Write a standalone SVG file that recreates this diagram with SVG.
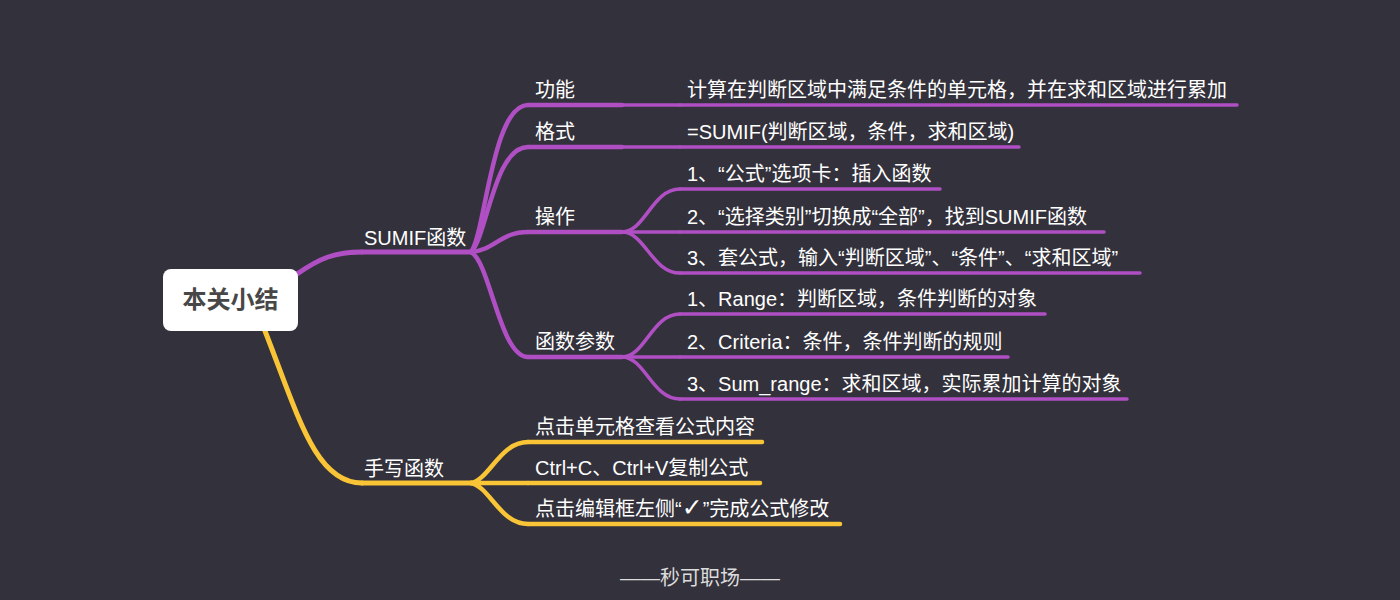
<svg xmlns="http://www.w3.org/2000/svg" width="1400" height="600" viewBox="0 0 1400 600">
<style>
.t{font-family:"Liberation Sans","Noto Sans CJK SC",sans-serif;font-size:20px;fill:#ffffff}
.root{font-family:"Liberation Sans","Noto Sans CJK SC",sans-serif;font-size:24px;font-weight:bold;fill:#474747}
.p{fill:none;stroke:#b04fc4;stroke-linecap:round}
.y{fill:none;stroke:#f9c536;stroke-linecap:round}
.w1{stroke-width:5}
.w2{stroke-width:4.5}
.w3{stroke-width:3.5}
.chk{font-family:"DejaVu Sans",sans-serif;font-size:25px}
.foot{font-family:"Liberation Sans","Noto Sans CJK SC",sans-serif;font-size:20px;fill:#dcdcdc}
</style>
<rect x="0" y="0" width="1400" height="600" fill="#33313b"/>
<g id="connectors">
<path class="p w1" d="M297,274 C320,258 335,252 362,252"/>
<path class="y w1" d="M265,331 C298,415 315,483 362,483"/>
<path class="p w2" d="M471,252 C485,235 492,105 528,105"/>
<path class="p w2" d="M471,252 C487,237 494,147 528,147"/>
<path class="p w2" d="M471,252 C495,250 500,232 528,232"/>
<path class="p w2" d="M471,252 C490,262 500,357 528,357"/>
<path class="p w3" d="M622,105 H680"/>
<path class="p w3" d="M622,147 H680"/>
<path class="p w3" d="M622,232 C645,232 652,189 680,189"/>
<path class="p w3" d="M622,232 H680"/>
<path class="p w3" d="M622,232 C645,232 652,273 680,273"/>
<path class="p w3" d="M622,357 C645,357 652,314 680,314"/>
<path class="p w3" d="M622,357 H680"/>
<path class="p w3" d="M622,357 C645,357 652,399 680,399"/>
<path class="y w2" d="M471,483 C490,479 500,442 528,442"/>
<path class="y w2" d="M471,483 H528"/>
<path class="y w2" d="M471,483 C490,487 500,524 528,524"/>
</g>
<g id="root">
<rect x="163" y="269" width="135" height="62" rx="8" fill="#ffffff"/>
<text class="root" x="230.5" y="308" text-anchor="middle">本关小结</text>
</g>
<g id="n-sumif">
<line class="p w1" x1="362" y1="252" x2="471" y2="252"/>
<text class="t" x="364" y="245">SUMIF函数</text>
</g>
<g id="n-gongneng">
<line class="p w2" x1="528" y1="105" x2="622" y2="105"/>
<text class="t" x="535" y="97">功能</text>
</g>
<g id="n-gongneng-1">
<line class="p w3" x1="680" y1="105" x2="1237" y2="105"/>
<text class="t" x="687" y="97">计算在判断区域中满足条件的单元格，并在求和区域进行累加</text>
</g>
<g id="n-geshi">
<line class="p w2" x1="528" y1="147" x2="622" y2="147"/>
<text class="t" x="535" y="139">格式</text>
</g>
<g id="n-geshi-1">
<line class="p w3" x1="680" y1="147" x2="1019" y2="147"/>
<text class="t" x="687" y="139">=SUMIF(判断区域，条件，求和区域)</text>
</g>
<g id="n-caozuo">
<line class="p w2" x1="528" y1="232" x2="622" y2="232"/>
<text class="t" x="535" y="224">操作</text>
</g>
<g id="n-caozuo-1">
<line class="p w3" x1="680" y1="189" x2="940" y2="189"/>
<text class="t" x="687" y="181">1、“公式”选项卡：插入函数</text>
</g>
<g id="n-caozuo-2">
<line class="p w3" x1="680" y1="232" x2="1104" y2="232"/>
<text class="t" x="687" y="224">2、“选择类别”切换成“全部”，找到SUMIF函数</text>
</g>
<g id="n-caozuo-3">
<line class="p w3" x1="680" y1="273" x2="1140" y2="273"/>
<text class="t" x="687" y="265">3、套公式，输入“判断区域”、“条件”、“求和区域”</text>
</g>
<g id="n-canshu">
<line class="p w2" x1="528" y1="357" x2="622" y2="357"/>
<text class="t" x="535" y="349">函数参数</text>
</g>
<g id="n-canshu-1">
<line class="p w3" x1="680" y1="314" x2="1045" y2="314"/>
<text class="t" x="687" y="306">1、Range：判断区域，条件判断的对象</text>
</g>
<g id="n-canshu-2">
<line class="p w3" x1="680" y1="357" x2="1008" y2="357"/>
<text class="t" x="687" y="349">2、Criteria：条件，条件判断的规则</text>
</g>
<g id="n-canshu-3">
<line class="p w3" x1="680" y1="399" x2="1127" y2="399"/>
<text class="t" x="687" y="391">3、Sum_range：求和区域，实际累加计算的对象</text>
</g>
<g id="n-shouxie">
<line class="y w1" x1="362" y1="483" x2="471" y2="483"/>
<text class="t" x="364" y="476">手写函数</text>
</g>
<g id="n-shouxie-1">
<line class="y w2" x1="528" y1="442" x2="762" y2="442"/>
<text class="t" x="535" y="434">点击单元格查看公式内容</text>
</g>
<g id="n-shouxie-2">
<line class="y w2" x1="528" y1="483" x2="760" y2="483"/>
<text class="t" x="535" y="475">Ctrl+C、Ctrl+V复制公式</text>
</g>
<g id="n-shouxie-3">
<line class="y w2" x1="528" y1="524" x2="840" y2="524"/>
<text class="t" x="535" y="516">点击编辑框左侧“<tspan class="chk">✓</tspan>”完成公式修改</text>
</g>
<text class="foot" x="700" y="585" text-anchor="middle">——秒可职场——</text>
</svg>
